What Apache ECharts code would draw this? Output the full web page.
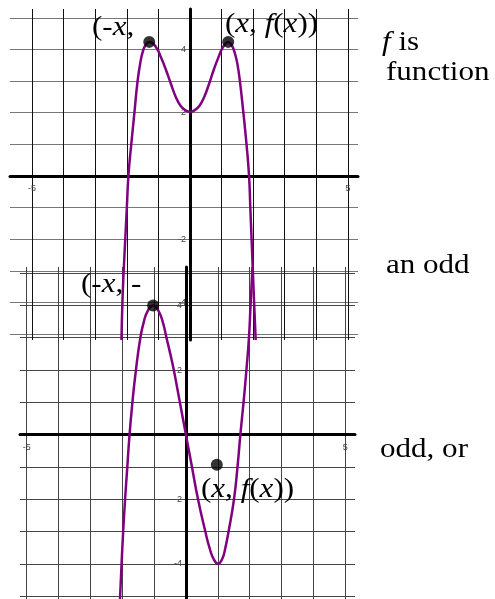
<!DOCTYPE html>
<html>
<head>
<meta charset="utf-8">
<script src="https://cdn.jsdelivr.net/npm/echarts@6.0.0/dist/echarts.min.js"></script>
<style>
  html, body { margin: 0; padding: 0; background: #fff; }
  #chart { width: 495px; height: 599px; }
</style>
</head>
<body>
<div id="chart"></div>
<script>
// ---- data ----
// Upper panel: even function
const topCurveX = [-2.17, -2.14, -2.10, -2.05, -2.0, -1.95, -1.86, -1.76, -1.66, -1.57, -1.49, -1.40, -1.29, -1.08, -0.92, -0.76, -0.60, -0.45, -0.30, -0.15, 0, 0.15, 0.30, 0.45, 0.60, 0.75, 0.90, 1.05, 1.21, 1.31, 1.40, 1.49, 1.58, 1.69, 1.79, 1.87, 1.91, 1.95, 1.99, 2.03, 2.08];
const topCurveY = [-5.19, -4, -3, -2, -1, 0, 1, 2, 3, 3.6, 3.95, 4.15, 4.24, 4.08, 3.75, 3.35, 2.9, 2.5, 2.22, 2.08, 2.03, 2.08, 2.22, 2.5, 2.9, 3.35, 3.75, 4.08, 4.24, 4.15, 3.95, 3.6, 3.0, 2, 1, 0, -1, -2, -3, -4, -5.19];
const topDotX = [-1.29, 1.21];
const topDotY = [4.24, 4.24];

// Lower panel: odd function
const botCurveX = [-2.07, -2.02, -1.97, -1.91, -1.84, -1.77, -1.68, -1.57, -1.43, -1.32, -1.19, -1.03, -0.87, -0.73, -0.61, -0.49, -0.38, -0.19, 0, 0.19, 0.38, 0.61, 0.74, 0.87, 1.01, 1.14, 1.24, 1.34, 1.51, 1.62, 1.71, 1.81, 1.90, 1.98, 2.03, 2.09];
const botCurveY = [-5.09, -4, -3, -2, -1, 0, 1, 2, 3, 3.5, 3.85, 4, 3.85, 3.5, 3, 2.5, 2, 1, 0, -1, -2, -3, -3.5, -3.85, -4, -3.85, -3.5, -3, -2, -1, 0, 1, 2, 3, 4, 5.19];
const botDotX = [-1.03, 0.97];
const botDotY = [4.0, -0.93];

// tick labels shown on the axes
const xTickLabels = [-5, 5];
const yTickLabels = [4, 2, -2, -4];

// texts
const topLabelLeft = '{n|(-}{i|x}{n|,}';
const topLabelRight = '{n|(}{i|x}{n|, }{i|f}{n|(}{i|x}{n|))}';
const botLabelLeft = '{n|(-}{i|x}{n|, -}';
const botLabelRight = '{n|(}{i|x}{n|, }{i|f}{n|(}{i|x}{n|))}';
const sideText1 = '{i|f}{n| is}';
const sideText2 = '{n|function}';
const sideText3 = '{n|an odd}';
const sideText4 = '{n|odd, or}';

// ---- build chart ----
const zip = (xs, ys) => xs.map((x, i) => [x, ys[i]]);
const SERIF = "'Liberation Serif', serif";
const FS = 27;
const STRETCH = 1.15;
const rich = {
  n: { font: FS + "px 'Liberation Serif', serif", fontFamily: SERIF, fontSize: FS, fill: '#000', color: '#000', fontStyle: 'normal' },
  i: { font: "italic " + FS + "px 'Liberation Serif', serif", fontFamily: SERIF, fontSize: FS, fill: '#000', color: '#000', fontStyle: 'italic' }
};

const grids = [
  { left: 10, top: 9, width: 348, height: 331, xMin: -5.7, xMax: 5.32, yMin: -5.19, yMax: 5.28, vColor: '#111', hColor: '#777' },
  { left: 20, top: 267, width: 335, height: 333, xMin: -5.21, xMax: 5.31, yMin: -5.12, yMax: 5.19, vColor: '#444', hColor: '#444' }
];

const fmt = list => v => (list.indexOf(Math.round(v * 1000) / 1000) >= 0 ? String(v) : '');

function xAxisCfg(i) {
  const g = grids[i];
  return {
    type: 'value', gridIndex: i, min: g.xMin, max: g.xMax, splitNumber: 11,
    minInterval: 1, maxInterval: 1, position: 'bottom',
    offset: -g.height * (0 - g.yMin) / (g.yMax - g.yMin),
    axisLine: { show: true, onZero: false, lineStyle: { color: '#000', width: 3 } },
    axisTick: { show: false },
    splitLine: { show: true, showMinLine: false, showMaxLine: false, lineStyle: { color: g.vColor, width: 1 } },
    axisLabel: {
      show: true, margin: 8, fontSize: 9, color: '#444', fontFamily: 'Liberation Sans, Arial, sans-serif',
      hideOverlap: false, formatter: fmt(xTickLabels)
    }
  };
}
function yAxisCfg(i) {
  const g = grids[i];
  return {
    type: 'value', gridIndex: i, min: g.yMin, max: g.yMax, splitNumber: 10,
    minInterval: 1, maxInterval: 1, position: 'left',
    offset: -g.width * (0 - g.xMin) / (g.xMax - g.xMin),
    axisLine: { show: true, onZero: false, lineStyle: { color: '#000', width: 3 } },
    axisTick: { show: false },
    splitLine: { show: true, showMinLine: false, showMaxLine: false, lineStyle: { color: g.hColor, width: 1 } },
    axisLabel: {
      show: true, margin: 4, fontSize: 9, color: '#444', fontFamily: 'Liberation Sans, Arial, sans-serif',
      hideOverlap: false, formatter: fmt(yTickLabels)
    }
  };
}

function textEl(x, y, text) {
  return {
    type: 'text', x, y, scaleX: STRETCH, z: 10,
    style: { text, rich, font: FS + "px 'Liberation Serif', serif", fontFamily: SERIF, fontSize: FS, fill: '#000', align: 'left', verticalAlign: 'middle' }
  };
}

const curveStyle = { color: '#800080', width: 2.5 };

const chart = echarts.init(document.getElementById('chart'), null, { renderer: 'canvas' });
chart.setOption({
  animation: false,
  backgroundColor: '#fff',
  grid: grids.map(g => ({ left: g.left, top: g.top, width: g.width, height: g.height, containLabel: false, outerBoundsMode: 'none' })),
  xAxis: [xAxisCfg(0), xAxisCfg(1)],
  yAxis: [yAxisCfg(0), yAxisCfg(1)],
  series: [
    {
      type: 'line', xAxisIndex: 1, yAxisIndex: 1, data: zip(botCurveX, botCurveY),
      smooth: 0.5, showSymbol: false, clip: true,
      lineStyle: curveStyle, z: 3
    },
    {
      type: 'scatter', xAxisIndex: 1, yAxisIndex: 1, data: zip(botDotX, botDotY),
      symbolSize: 12, itemStyle: { color: '#000' }, z: 4
    },
    {
      type: 'line', xAxisIndex: 0, yAxisIndex: 0, data: zip(topCurveX, topCurveY),
      smooth: 0.5, showSymbol: false, clip: true,
      lineStyle: curveStyle, z: 3
    },
    {
      type: 'scatter', xAxisIndex: 0, yAxisIndex: 0, data: zip(topDotX, topDotY),
      symbolSize: 12, itemStyle: { color: '#000' }, z: 4
    }
  ],
  graphic: [
    textEl(92, 28, topLabelLeft),
    textEl(225, 24.5, topLabelRight),
    textEl(81, 284.5, botLabelLeft),
    textEl(201, 489.5, botLabelRight),
    textEl(382, 43, sideText1),
    textEl(386, 73, sideText2),
    textEl(386, 266, sideText3),
    textEl(380, 449.5, sideText4)
  ]
});
</script>
</body>
</html>
